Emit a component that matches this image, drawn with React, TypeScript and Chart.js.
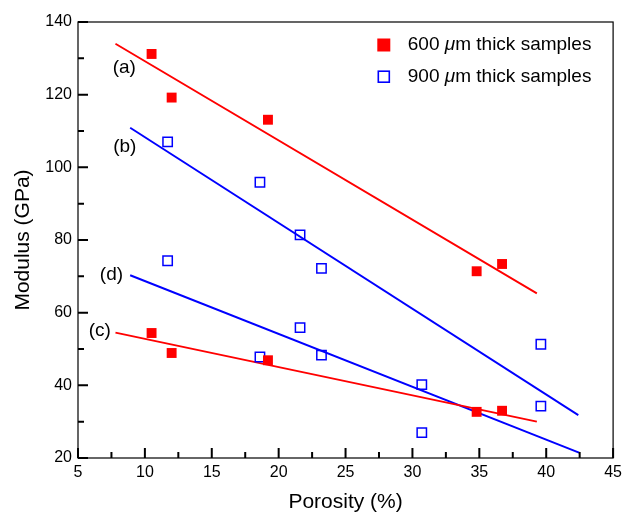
import React, { useEffect, useRef } from 'react';
import { Chart, registerables } from 'chart.js';

Chart.register(...registerables);

// ---- Data ----
const porosity600 = [10.5, 12.0, 19.2, 34.8, 36.7];
const modulus600a = [131.2, 119.2, 113.1, 71.4, 73.4];
const modulus600c = [54.4, 48.9, 46.9, 32.7, 33.0];

const porosity900 = [11.7, 18.6, 21.6, 23.2, 30.7, 39.6];
const modulus900b = [107.0, 95.9, 81.4, 72.2, 40.2, 51.3];
const modulus900d = [74.3, 47.8, 55.9, 48.3, 27.0, 34.3];

const fitAX = [7.8, 39.3];
const fitAY = [134.0, 65.3];
const fitBX = [8.9, 42.4];
const fitBY = [110.9, 31.8];
const fitCX = [7.8, 39.3];
const fitCY = [54.5, 30.0];
const fitDX = [8.9, 42.5];
const fitDY = [70.3, 21.4];

const curveLabels = ['(a)', '(b)', '(c)', '(d)'];
const curveLabelX = [8.46, 8.5, 6.63, 7.5];
const curveLabelY = [127.5, 105.7, 55.0, 70.5];

const legendPrefix = ['600 ', '900 '];
const legendUnit = 'μ';
const legendSuffix = 'm thick samples';

const xMin = 5, xMax = 45, xStep = 2.5, xLabelStep = 5;
const yMin = 20, yMax = 140, yStep = 10, yLabelStep = 20;

const xTitle = 'Porosity (%)';
const yTitle = 'Modulus (GPa)';

const RED = '#ff0000';
const BLUE = '#0000ff';
const FONT = '"Liberation Sans", Arial, Helvetica, sans-serif';

const pts = (xs: number[], ys: number[]) => xs.map((x, i) => ({ x, y: ys[i] }));

const isMultiple = (v: number, step: number) => Math.abs(v / step - Math.round(v / step)) < 1e-6;

const framePlugin = {
  id: 'frameAndTicks',
  afterDatasetsDraw(chart: any) {
    const { ctx, chartArea } = chart;
    const { left, right, top, bottom } = chartArea;
    const xs = chart.scales.x;
    const ys = chart.scales.y;
    ctx.save();
    ctx.strokeStyle = '#000';
    ctx.lineWidth = 1.2;
    ctx.strokeRect(left, top, right - left, bottom - top);
    ctx.lineWidth = 2;
    ctx.beginPath();
    xs.ticks.forEach((t: any) => {
      const px = xs.getPixelForValue(t.value);
      const len = isMultiple(t.value, xLabelStep) ? 10 : 6;
      ctx.moveTo(px, bottom);
      ctx.lineTo(px, bottom - len);
    });
    ys.ticks.forEach((t: any) => {
      const py = ys.getPixelForValue(t.value);
      const len = isMultiple(t.value, yLabelStep) ? 10 : 6;
      ctx.moveTo(left, py);
      ctx.lineTo(left + len, py);
    });
    ctx.stroke();
    ctx.restore();
  },
  afterDraw(chart: any) {
    const { ctx, chartArea } = chart;
    const xs = chart.scales.x;
    const ys = chart.scales.y;
    ctx.save();
    // curve labels
    ctx.fillStyle = '#000';
    ctx.font = `19px ${FONT}`;
    ctx.textAlign = 'center';
    ctx.textBaseline = 'middle';
    curveLabels.forEach((t, i) => {
      ctx.fillText(t, xs.getPixelForValue(curveLabelX[i]), ys.getPixelForValue(curveLabelY[i]));
    });
    // legend
    const colors = [RED, BLUE];
    const rowY = [chartArea.top + 23, chartArea.top + 54.7];
    const sqX = chartArea.right - 229.3;
    const textX = chartArea.right - 205.3;
    ctx.textAlign = 'left';
    legendPrefix.forEach((pre, i) => {
      const y = rowY[i];
      if (i === 0) {
        ctx.fillStyle = colors[i];
        ctx.fillRect(sqX - 6.5, y - 6.5, 13, 13);
      } else {
        ctx.strokeStyle = colors[i];
        ctx.lineWidth = 1.6;
        ctx.strokeRect(sqX - 5.5, y - 5.5, 11, 11);
      }
      ctx.fillStyle = '#000';
      let x = textX;
      ctx.font = `19px ${FONT}`;
      ctx.fillText(pre, x, y);
      x += ctx.measureText(pre).width;
      ctx.font = `italic 19px ${FONT}`;
      ctx.fillText(legendUnit, x, y);
      x += ctx.measureText(legendUnit).width;
      ctx.font = `19px ${FONT}`;
      ctx.fillText(legendSuffix, x, y);
    });
    ctx.restore();
  },
};

export default function App() {
  const ref = useRef<HTMLCanvasElement>(null);
  useEffect(() => {
    if (!ref.current) return;
    Chart.defaults.font.family = FONT;
    Chart.defaults.color = '#000';
    const chart = new Chart(ref.current, {
      type: 'scatter',
      data: {
        datasets: [
          {
            label: '600 μm (a)',
            data: pts(porosity600, modulus600a),
            pointStyle: 'rect',
            pointRadius: 7,
            backgroundColor: RED,
            borderColor: RED,
            borderWidth: 0,
          },
          {
            label: '600 μm (c)',
            data: pts(porosity600, modulus600c),
            pointStyle: 'rect',
            pointRadius: 7,
            backgroundColor: RED,
            borderColor: RED,
            borderWidth: 0,
          },
          {
            label: '900 μm (b)',
            data: pts(porosity900, modulus900b),
            pointStyle: 'rect',
            pointRadius: 6.6,
            backgroundColor: 'rgba(0,0,0,0)',
            borderColor: BLUE,
            borderWidth: 1.5,
          },
          {
            label: '900 μm (d)',
            data: pts(porosity900, modulus900d),
            pointStyle: 'rect',
            pointRadius: 6.6,
            backgroundColor: 'rgba(0,0,0,0)',
            borderColor: BLUE,
            borderWidth: 1.5,
          },
          { label: 'fit a', data: pts(fitAX, fitAY), showLine: true, pointRadius: 0, borderColor: RED, borderWidth: 1.9 },
          { label: 'fit b', data: pts(fitBX, fitBY), showLine: true, pointRadius: 0, borderColor: BLUE, borderWidth: 1.9 },
          { label: 'fit c', data: pts(fitCX, fitCY), showLine: true, pointRadius: 0, borderColor: RED, borderWidth: 1.9 },
          { label: 'fit d', data: pts(fitDX, fitDY), showLine: true, pointRadius: 0, borderColor: BLUE, borderWidth: 1.9 },
        ],
      },
      options: {
        responsive: false,
        animation: false,
        devicePixelRatio: 1,
        layout: { autoPadding: false, padding: { top: 22, right: 10, left: 0, bottom: 0 } },
        plugins: { legend: { display: false }, tooltip: { enabled: false } },
        scales: {
          x: {
            type: 'linear',
            min: xMin,
            max: xMax,
            grid: { display: false, drawTicks: false },
            border: { display: false },
            ticks: {
              stepSize: xStep,
              padding: 5,
              autoSkip: false,
              maxRotation: 0,
              font: { size: 16 },
              color: '#000',
              callback: (v: any) => (isMultiple(Number(v), xLabelStep) ? String(v) : ''),
            },
            title: { display: true, text: xTitle, font: { size: 21 }, color: '#000', padding: 0 },
            afterFit: (s: any) => { s.height = 57; },
          },
          y: {
            type: 'linear',
            min: yMin,
            max: yMax,
            grid: { display: false, drawTicks: false },
            border: { display: false },
            ticks: {
              stepSize: yStep,
              padding: 6,
              autoSkip: false,
              font: { size: 16 },
              color: '#000',
              callback: (v: any) => (isMultiple(Number(v), yLabelStep) ? String(v) : ''),
            },
            title: { display: true, text: yTitle, font: { size: 21 }, color: '#000', padding: { top: 11, bottom: 0 } },
            afterFit: (s: any) => { s.width = 78; },
          },
        },
      },
      plugins: [framePlugin],
    } as any);
    return () => chart.destroy();
  }, []);
  return (
    <div style={{ position: 'absolute', left: 0, top: 0, width: 627, height: 515, background: '#fff' }}>
      <canvas ref={ref} width={627} height={515} style={{ display: 'block' }} />
    </div>
  );
}
